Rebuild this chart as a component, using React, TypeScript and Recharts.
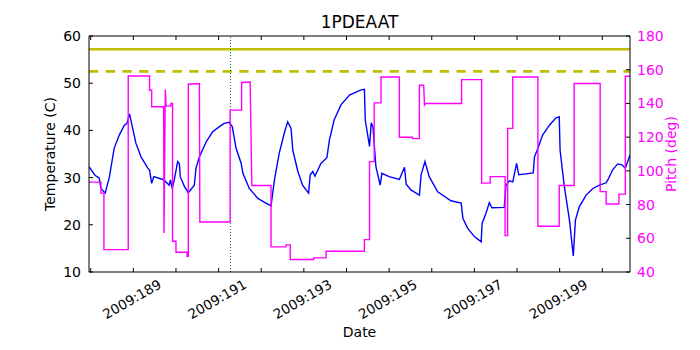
import React from 'react';
import { LineChart, Line, XAxis, YAxis, ReferenceLine } from 'recharts';

// Temperature (C) vs. day of year 2009
const tempDays = [
  187.96, 188.10, 188.20, 188.24, 188.34, 188.44, 188.55, 188.67, 188.79, 188.85,
  188.91, 189.06, 189.18, 189.34, 189.38, 189.43, 189.48, 189.69, 189.74, 189.84,
  189.87, 189.91, 189.96, 190.04, 190.08, 190.10, 190.20, 190.29, 190.43, 190.47,
  190.55, 190.71, 190.86, 191.02, 191.13, 191.25, 191.32, 191.41, 191.53, 191.57,
  191.72, 191.92, 192.11, 192.23, 192.31, 192.42, 192.54, 192.62, 192.70, 192.74,
  192.86, 192.97, 193.11, 193.15, 193.21, 193.26, 193.40, 193.54, 193.60, 193.71,
  193.87, 194.07, 194.34, 194.42, 194.44, 194.54, 194.58, 194.62, 194.69, 194.79,
  194.83, 195.00, 195.24, 195.36, 195.40, 195.51, 195.71, 195.75, 195.84, 195.94,
  196.14, 196.45, 196.69, 196.73, 196.84, 197.00, 197.16, 197.18, 197.27, 197.35,
  197.41, 197.70, 197.74, 197.82, 197.90, 197.99, 198.04, 198.21, 198.38, 198.41,
  198.49, 198.60, 198.76, 198.91, 198.99, 199.01, 199.11, 199.23, 199.32, 199.37,
  199.46, 199.62, 199.78, 199.93, 200.09, 200.13, 200.24, 200.36, 200.46, 200.54,
  200.65,
];
const tempValues = [
  32.3, 30.5, 29.9, 27.7, 26.7, 30.2, 36.2, 39.0, 41.1, 41.5,
  43.5, 37.3, 34.4, 32.0, 31.6, 28.8, 30.2, 29.6, 29.3, 28.4,
  29.5, 27.7, 29.5, 33.4, 33.0, 30.2, 28.1, 26.8, 28.4, 32.0,
  34.4, 37.6, 39.7, 40.8, 41.5, 41.7, 40.8, 36.2, 33.0, 30.9,
  27.7, 25.6, 24.6, 24.0, 29.5, 35.1, 39.4, 41.8, 40.4, 35.8,
  31.3, 28.4, 26.7, 30.6, 31.3, 30.3, 33.0, 34.2, 38.0, 42.2,
  45.4, 47.5, 48.6, 48.7, 42.2, 36.6, 41.6, 40.8, 32.3, 28.4,
  30.9, 30.2, 29.6, 32.2, 28.6, 27.4, 26.3, 30.6, 33.4, 30.2,
  27.0, 25.1, 24.6, 21.4, 19.3, 17.5, 16.4, 20.3, 22.4, 24.7,
  23.6, 23.7, 28.4, 29.3, 29.1, 33.0, 30.6, 30.8, 31.0, 34.4,
  36.2, 39.0, 41.1, 42.6, 42.9, 35.8, 28.1, 21.0, 13.4, 21.0,
  23.8, 26.3, 27.7, 28.4, 28.9, 29.5, 31.6, 32.9, 32.7, 32.0,
  34.8,
];

// Pitch (deg) vs. day of year 2009 (stepwise attitude)
const pitchDays = [
  187.96, 188.24, 188.24, 188.31, 188.31, 188.88, 188.88, 189.38, 189.38, 189.43,
  189.43, 189.71, 189.72, 189.75, 189.77, 189.88, 189.88, 189.92, 189.92, 190.00,
  190.00, 190.26, 190.26, 190.29, 190.29, 190.55, 190.56, 191.27, 191.27, 191.54,
  191.54, 191.74, 191.78, 192.23, 192.23, 192.58, 192.58, 192.68, 192.68, 193.23,
  193.23, 193.52, 193.52, 194.42, 194.42, 194.54, 194.54, 194.65, 194.65, 194.81,
  194.81, 195.24, 195.24, 195.55, 195.55, 195.71, 195.71, 195.81, 195.83, 195.86,
  196.70, 196.70, 197.17, 197.17, 197.37, 197.37, 197.72, 197.72, 197.78, 197.78,
  197.90, 197.90, 198.49, 198.49, 198.99, 198.99, 199.34, 199.34, 199.95, 199.95,
  200.09, 200.09, 200.39, 200.39, 200.54, 200.54, 200.65,
];
const pitchValues = [
  93.3, 93.3, 86.8, 86.8, 53.3, 53.3, 156.3, 156.3, 147.8, 147.8,
  138.0, 138.0, 63.2, 148.2, 138.4, 138.4, 140.0, 140.0, 58.2, 58.2,
  51.7, 51.7, 49.3, 49.3, 151.4, 151.8, 69.7, 69.7, 136.0, 136.0,
  152.4, 152.7, 91.3, 91.3, 54.9, 54.9, 56.1, 56.1, 47.4, 47.4,
  48.4, 48.4, 52.3, 52.3, 59.2, 59.2, 105.5, 105.5, 140.3, 140.3,
  155.7, 155.7, 119.9, 119.9, 119.1, 119.1, 150.8, 150.8, 139.0, 140.0,
  140.0, 154.1, 154.1, 92.7, 92.7, 96.6, 96.6, 61.6, 61.6, 125.2,
  125.2, 155.7, 155.7, 67.1, 67.1, 91.3, 91.3, 151.8, 151.8, 87.7,
  87.7, 80.3, 80.3, 86.2, 86.2, 156.1, 156.1,
];

const dayDomain = [187.96, 200.65];
const dayTicks = [188, 189, 190, 191, 192, 193, 194, 195, 196, 197, 198, 199, 200];
const tempTicks = [10, 20, 30, 40, 50, 60];
const pitchTicks = [40, 60, 80, 100, 120, 140, 160, 180];
const planningLimit = 57.2;
const cautionLimit = 52.5;
const markerDay = 191.28;

const tempData = tempDays.map((d, i) => ({ d, t: tempValues[i] }));
const pitchData = pitchDays.map((d, i) => ({ d, p: pitchValues[i] }));

const FONT = 'DejaVu Sans';

const XTick = (props: any) => {
  const { x, y, payload } = props;
  const v = payload.value;
  if (v % 2 === 0) return <g />;
  return (
    <g transform={`translate(${x - 1.5},${y + 31})`}>
      <text
        x={0}
        y={0}
        textAnchor="middle"
        dominantBaseline="central"
        transform="rotate(-30)"
        fontSize={13.5}
        fontFamily={FONT}
        fill="#000"
      >
        {`2009:${v}`}
      </text>
    </g>
  );
};

const DateLabel = (props: any) => {
  const vb = props.viewBox || { x: 89, y: 272, width: 541, height: 78 };
  return (
    <text x={vb.x + vb.width / 2} y={vb.y + 65} textAnchor="middle" fontSize={14} fontFamily={FONT} fill="#000">
      Date
    </text>
  );
};

const TempLabel = (props: any) => {
  const vb = props.viewBox || { x: 0, y: 36, width: 89, height: 236 };
  return (
    <text
      x={0}
      y={0}
      transform={`translate(${vb.x + 50},${vb.y + vb.height / 2}) rotate(-90)`}
      textAnchor="middle"
      dominantBaseline="central"
      fontSize={14}
      fontFamily={FONT}
      fill="#000"
    >
      Temperature (C)
    </text>
  );
};

const PitchLabel = (props: any) => {
  const vb = props.viewBox || { x: 630, y: 36, width: 70, height: 236 };
  return (
    <text
      x={0}
      y={0}
      transform={`translate(${vb.x + 41},${vb.y + vb.height / 2}) rotate(-90)`}
      textAnchor="middle"
      dominantBaseline="central"
      fontSize={14}
      fontFamily={FONT}
      fill="#ff00ff"
    >
      Pitch (deg)
    </text>
  );
};

export default function App() {
  return (
    <div style={{ position: 'absolute', left: 0, top: 0, width: 700, height: 350, background: '#fff', fontFamily: FONT }}>
      <div
        style={{
          position: 'absolute',
          left: 89,
          width: 541,
          top: 13.6,
          textAlign: 'center',
          fontSize: 17,
          lineHeight: '17px',
          fontFamily: FONT,
          color: '#000',
        }}
      >
        1PDEAAT
      </div>
      <LineChart width={700} height={350} margin={{ top: 0, right: 0, bottom: 0, left: 0 }}>
        <XAxis
          xAxisId="bottom"
          dataKey="d"
          type="number"
          domain={dayDomain}
          ticks={dayTicks}
          allowDataOverflow
          height={78}
          tickSize={-4}
          tickMargin={0}
          tick={(p: any) => <XTick {...p} />}
          axisLine={{ stroke: '#000', strokeWidth: 1 }}
          tickLine={{ stroke: '#000', strokeWidth: 1 }}
          interval={0}
          label={{ content: (p: any) => <DateLabel {...p} /> }}
        />
        <XAxis
          xAxisId="top"
          orientation="top"
          dataKey="d"
          type="number"
          domain={dayDomain}
          ticks={dayTicks}
          allowDataOverflow
          height={36}
          tickSize={-4}
          tick={() => <g />}
          axisLine={{ stroke: '#000', strokeWidth: 1 }}
          tickLine={{ stroke: '#000', strokeWidth: 1 }}
          interval={0}
        />
        <YAxis
          yAxisId="left"
          type="number"
          domain={[10, 60]}
          ticks={tempTicks}
          allowDataOverflow
          width={89}
          tickSize={-4}
          tickMargin={12}
          tick={{ fontSize: 14, fill: '#000', fontFamily: FONT }}
          axisLine={{ stroke: '#000', strokeWidth: 1 }}
          tickLine={{ stroke: '#000', strokeWidth: 1 }}
          interval={0}
          label={{ content: (p: any) => <TempLabel {...p} /> }}
        />
        <YAxis
          yAxisId="right"
          orientation="right"
          type="number"
          domain={[40, 180]}
          ticks={pitchTicks}
          allowDataOverflow
          width={70}
          tickSize={-4}
          tickMargin={11}
          tick={{ fontSize: 14, fill: '#ff00ff', fontFamily: FONT }}
          axisLine={{ stroke: '#000', strokeWidth: 1 }}
          tickLine={{ stroke: '#000', strokeWidth: 1 }}
          interval={0}
          label={{ content: (p: any) => <PitchLabel {...p} /> }}
        />
        <Line
          data={tempData}
          dataKey="t"
          xAxisId="bottom"
          yAxisId="left"
          type="linear"
          stroke="#0000ff"
          strokeWidth={1.4}
          dot={false}
          activeDot={false}
          isAnimationActive={false}
        />
        <ReferenceLine xAxisId="bottom" yAxisId="left" y={planningLimit} stroke="#bfbf00" strokeWidth={2.6} />
        <ReferenceLine
          xAxisId="bottom"
          yAxisId="left"
          y={cautionLimit}
          stroke="#bfbf00"
          strokeWidth={2.6}
          strokeDasharray="9.3 7.4"
        />
        <ReferenceLine
          xAxisId="bottom"
          yAxisId="left"
          x={markerDay}
          stroke="#008000"
          strokeWidth={1}
          strokeDasharray="1 2"
        />
        <Line
          data={pitchData}
          dataKey="p"
          xAxisId="bottom"
          yAxisId="right"
          type="linear"
          stroke="#ff00ff"
          strokeWidth={1.4}
          dot={false}
          activeDot={false}
          isAnimationActive={false}
        />
      </LineChart>
    </div>
  );
}
